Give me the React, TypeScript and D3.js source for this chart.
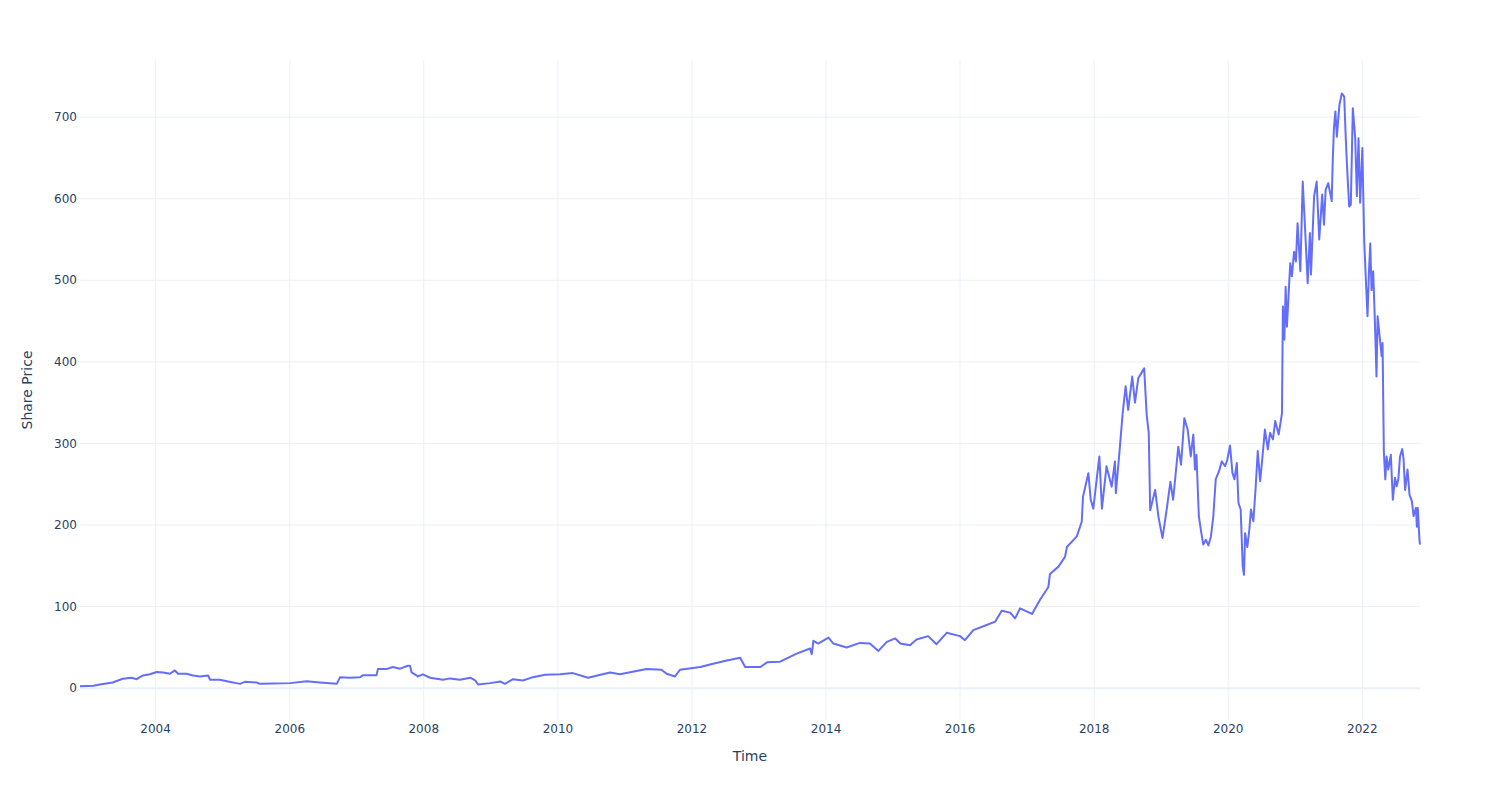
import React from 'react';
import * as d3 from 'd3';

// share price
const dates = [
  '2002-11-15', '2003-01-27', '2003-03-19', '2003-05-12', '2003-07-06', '2003-08-23', '2003-09-20', '2003-10-24', '2003-12-01',
  '2004-01-07', '2004-02-11', '2004-03-19', '2004-04-15', '2004-05-02', '2004-06-18', '2004-07-22', '2004-08-30', '2004-10-13', '2004-10-24', '2004-12-17',
  '2005-01-23', '2005-04-05', '2005-05-01', '2005-07-04', '2005-07-22', '2005-10-02',
  '2006-01-03', '2006-04-03', '2006-06-14', '2006-09-14', '2006-10-02', '2006-11-25',
  '2007-01-19', '2007-02-05', '2007-04-19', '2007-04-26', '2007-06-12', '2007-07-16', '2007-08-24', '2007-10-07', '2007-10-18', '2007-10-27', '2007-11-30', '2007-12-27',
  '2008-02-05', '2008-04-15', '2008-05-22', '2008-07-16', '2008-09-10', '2008-10-07', '2008-10-23', '2008-12-27',
  '2009-02-21', '2009-03-18', '2009-05-01', '2009-06-24', '2009-08-18', '2009-10-23',
  '2010-01-13', '2010-03-23', '2010-06-14', '2010-10-12', '2010-12-05',
  '2011-04-29', '2011-07-19', '2011-08-16', '2011-10-01', '2011-10-28',
  '2012-02-15', '2012-04-25', '2012-07-09', '2012-09-20', '2012-10-17',
  '2013-01-08', '2013-02-13', '2013-04-25', '2013-06-01', '2013-07-25', '2013-10-06', '2013-10-15', '2013-10-24', '2013-11-19',
  '2014-01-14', '2014-02-10', '2014-04-23', '2014-07-04', '2014-08-28', '2014-10-13', '2014-11-28',
  '2015-01-13', '2015-02-10', '2015-04-03', '2015-05-09', '2015-07-11', '2015-08-26', '2015-10-20',
  '2016-01-01', '2016-01-28', '2016-03-13', '2016-05-25', '2016-07-10', '2016-08-15', '2016-09-30', '2016-10-27', '2016-11-23',
  '2017-01-27', '2017-03-11', '2017-04-26', '2017-05-05', '2017-06-20', '2017-07-26', '2017-08-05', '2017-09-28', '2017-10-25', '2017-11-01', '2017-11-30', '2017-12-13', '2017-12-27',
  '2018-01-29', '2018-02-12', '2018-03-09', '2018-04-06', '2018-04-24', '2018-04-29', '2018-05-21', '2018-06-05', '2018-06-21', '2018-07-05', '2018-07-27', '2018-08-11', '2018-08-29', '2018-09-30', '2018-10-14', '2018-10-25', '2018-11-02', '2018-11-29', '2018-12-17',
  '2019-01-08', '2019-02-02', '2019-02-20', '2019-03-07', '2019-04-04', '2019-04-19', '2019-05-07', '2019-05-25', '2019-06-11', '2019-06-25', '2019-07-04', '2019-07-12', '2019-07-25', '2019-08-05', '2019-08-18', '2019-09-01', '2019-09-15', '2019-09-29', '2019-10-12', '2019-10-25', '2019-11-12', '2019-11-27', '2019-12-15', '2019-12-27',
  '2020-01-11', '2020-01-24', '2020-02-04', '2020-02-17', '2020-02-26', '2020-03-09', '2020-03-20', '2020-03-27', '2020-04-02', '2020-04-14', '2020-04-25', '2020-05-04', '2020-05-17', '2020-05-30', '2020-06-10', '2020-06-23', '2020-07-05', '2020-07-19', '2020-08-04', '2020-08-16', '2020-09-01', '2020-09-13', '2020-10-02', '2020-10-20', '2020-10-25', '2020-11-02', '2020-11-09', '2020-11-16', '2020-12-04', '2020-12-13', '2020-12-25',
  '2021-01-04', '2021-01-13', '2021-01-28', '2021-02-10', '2021-02-24', '2021-03-09', '2021-03-21', '2021-03-27', '2021-04-13', '2021-04-27', '2021-05-11', '2021-05-27', '2021-06-06', '2021-06-15', '2021-06-29', '2021-07-18', '2021-07-23', '2021-07-30', '2021-08-07', '2021-08-15', '2021-08-29', '2021-09-11', '2021-09-24', '2021-10-03', '2021-10-09', '2021-10-21', '2021-10-30', '2021-11-10', '2021-11-23', '2021-12-02', '2021-12-11', '2021-12-20',
  '2022-01-01', '2022-01-11', '2022-01-20', '2022-01-29', '2022-02-06', '2022-02-13', '2022-02-20', '2022-03-01', '2022-03-10', '2022-03-19', '2022-03-25', '2022-04-07', '2022-04-16', '2022-04-21',
  '2022-04-28', '2022-05-06', '2022-05-13', '2022-05-22', '2022-06-05', '2022-06-16', '2022-06-28', '2022-07-07', '2022-07-16', '2022-07-25', '2022-08-06', '2022-08-13', '2022-08-22', '2022-09-04', '2022-09-15', '2022-09-28', '2022-10-07', '2022-10-20', '2022-10-25', '2022-10-30', '2022-11-08', '2022-11-11',
];

const prices = [
  2.5, 3, 5, 7, 11.5, 12.8, 11, 15.6, 17,
  19.8, 19.3, 17.7, 21.8, 17.7, 17.7, 15.6, 14.4, 15.6, 10.3, 10.3,
  8.6, 5.3, 7.8, 7, 5.3, 5.8,
  6.2, 8.6, 7, 5.3, 13.5, 12.8,
  13.5, 16, 16, 23.4, 23.4, 25.9, 23.9, 27.5, 27.5, 19.3, 14.4, 17,
  12.8, 10.3, 12, 10.3, 12.8, 9.5, 4.5, 6.2,
  8.2, 5.3, 11, 9.5, 13.5, 16.4,
  17, 18.5, 12.8, 19.3, 17,
  23.4, 22.6, 17.7, 14.4, 22.6,
  25.9, 30, 34, 37.4, 25.9,
  25.9, 31.7, 32.5, 36.6, 42.4, 48.6, 41.6, 58, 54.7,
  62, 54.7, 49.8, 55.5, 54.7, 45.7, 56.8,
  61, 54.7, 52.7, 59.7, 63.8, 53.9, 67.9,
  63.8, 58.8, 71.2, 77.4, 81.5, 95, 92.6, 85.6, 97.9,
  91, 108, 124, 140, 149, 161, 173, 186, 204, 235, 263.5, 231, 220,
  284, 220, 272, 247, 278, 239, 296, 337, 370, 341, 382, 350, 380, 392, 335, 313, 218, 243, 210,
  184, 222.5, 253, 231, 296, 274, 331, 317, 284, 311, 268, 286, 211, 194, 176, 182, 175, 186, 211, 256, 266, 278, 272, 280,
  297.5, 264, 256, 276, 227, 219, 149, 139, 190, 173, 194, 219, 204.5, 247.5, 290.6, 253.7, 282, 317, 292.6, 313, 305, 327.5, 311, 337, 468, 427, 492, 443, 521, 505, 535,
  523, 570, 511, 621, 558, 496.5, 558, 507, 603, 621, 550, 605, 568, 611, 619, 597, 642, 686.5, 707, 676, 715, 729, 725, 672, 642, 590.5, 592.5, 711, 674, 603, 674, 595,
  662, 548, 501, 456, 511, 545, 488, 511, 451, 382, 456, 427, 407, 423,
  290, 256, 284, 268, 286, 231, 258, 247.5, 256, 284, 293, 282, 243, 268, 237, 229, 211, 221, 198, 221, 182, 176,
];

const yTicks = [0, 100, 200, 300, 400, 500, 600, 700];
const xTickYears = [2004, 2006, 2008, 2010, 2012, 2014, 2016, 2018, 2020, 2022];

const W = 1500;
const H = 800;
const margin = { top: 60, right: 80, bottom: 80, left: 80 };
const gridColor = '#ebf0f8';
const textColor = '#2a3f5f';
const font = '"DejaVu Sans", Verdana, sans-serif';

const parse = d3.timeParse('%Y-%m-%d');

const App = () => {
  const points = dates.map((d, i) => ({ date: parse(d) as Date, value: prices[i] }));

  const x = d3
    .scaleTime()
    .domain(d3.extent(points, (p) => p.date) as [Date, Date])
    .range([margin.left, W - margin.right]);

  const y = d3
    .scaleLinear()
    .domain([-39, 770]) // plotly autorange with padding
    .range([H - margin.bottom, margin.top]);

  const line = d3
    .line<{ date: Date; value: number }>()
    .x((p) => x(p.date))
    .y((p) => y(p.value));

  const xTicks = xTickYears.map((yr) => new Date(yr, 0, 1));

  return (
    <svg
      width={W}
      height={H}
      style={{ position: 'absolute', left: 0, top: 0, background: '#fff', fontFamily: font }}
    >
      {/* grid */}
      {xTicks.map((t) => (
        <line key={'gx' + t.getFullYear()} x1={x(t)} x2={x(t)} y1={margin.top} y2={H - margin.bottom} stroke={gridColor} strokeWidth={1} />
      ))}
      {yTicks.filter((v) => v !== 0).map((v) => (
        <line key={'gy' + v} x1={margin.left} x2={W - margin.right} y1={y(v)} y2={y(v)} stroke={gridColor} strokeWidth={1} />
      ))}
      <line x1={margin.left} x2={W - margin.right} y1={y(0)} y2={y(0)} stroke={gridColor} strokeWidth={2} />

      {/* series */}
      <path d={line(points) ?? ''} fill="none" stroke="#636efa" strokeWidth={2} strokeLinejoin="round" />

      {/* y tick labels */}
      {yTicks.map((v) => (
        <text key={'ty' + v} x={margin.left - 3} y={y(v)} dy="0.35em" textAnchor="end" fontSize={12} fill={textColor}>
          {v}
        </text>
      ))}
      {/* x tick labels */}
      {xTicks.map((t) => (
        <text key={'tx' + t.getFullYear()} x={x(t)} y={H - margin.bottom + 13} textAnchor="middle" fontSize={12} fill={textColor}>
          {t.getFullYear()}
        </text>
      ))}

      {/* axis titles */}
      <text x={(margin.left + W - margin.right) / 2} y={761} textAnchor="middle" fontSize={14} fill={textColor}>
        Time
      </text>
      <text
        transform={`translate(32,${(margin.top + H - margin.bottom) / 2}) rotate(-90)`}
        textAnchor="middle"
        fontSize={14}
        fill={textColor}
      >
        Share Price
      </text>
    </svg>
  );
};

export default App;
